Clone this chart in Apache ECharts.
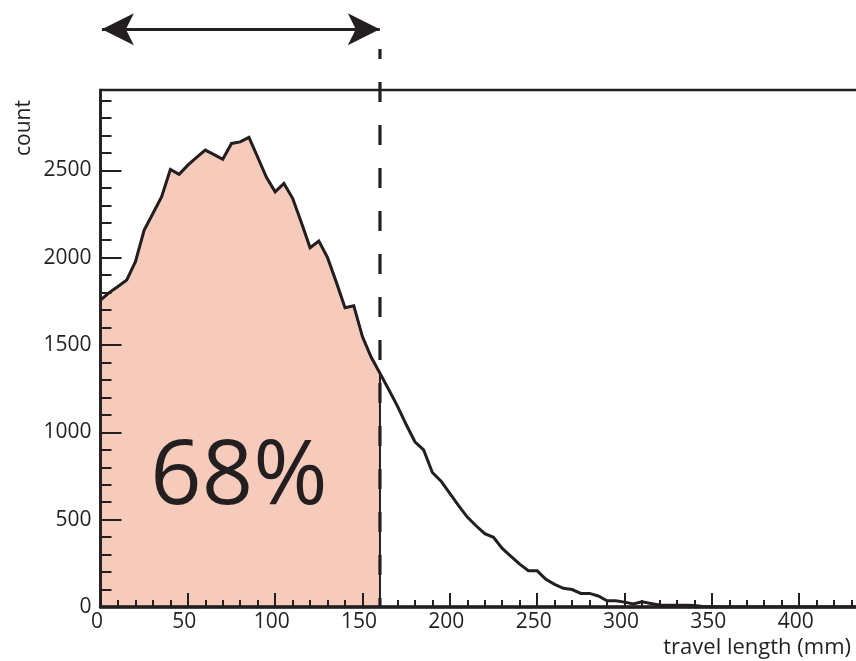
<!DOCTYPE html>
<html>
<head>
<meta charset="utf-8">
<script src="https://cdn.jsdelivr.net/npm/echarts@6/dist/echarts.min.js"></script>
<style>
html, body { margin: 0; padding: 0; background: #fff; }
#chart { width: 856px; height: 661px; }
</style>
</head>
<body>
<div id="chart"></div>
<script>
// travel length (mm) at each histogram point
const travelLength = [
    0, 5, 10, 15, 20, 25, 30, 35, 40, 45, 50, 55, 60, 65, 70, 75, 80, 85, 90, 95,
    100, 105, 110, 115, 120, 125, 130, 135, 140, 145, 150, 155, 160, 165, 170, 175,
    180, 185, 190, 195, 200, 205, 210, 215, 220, 225, 230, 235, 240, 245, 250, 255,
    260, 265, 270, 275, 280, 285, 290, 295, 300, 305, 310, 315, 320, 325, 330, 335,
    340, 345, 350, 355, 450
];
const counts = [
    1757, 1800, 1835, 1872, 1977, 2158, 2253, 2349, 2505, 2477, 2530, 2574, 2616, 2590, 2563, 2654, 2663, 2689, 2575, 2460,
    2377, 2425, 2340, 2202, 2057, 2095, 2000, 1860, 1713, 1725, 1547, 1430, 1338, 1245, 1150, 1045,
    946, 899, 770, 720, 650, 580, 515, 465, 420, 399, 335, 290, 245, 208, 207, 158,
    130, 107, 100, 78, 78, 63, 36, 36, 28, 17, 30, 20, 11, 10, 10, 10,
    8, 3, 2, 0, 0
];
const cutLength = 160;        // 68% of tracks are shorter
const cutLabel = '68%';
const yMax = 2960;            // top of the frame
const annotMax = 3400;        // y range of the annotation layer
const dashTop = 3195;
const arrowLevel = 3307;
const arrowFrom = 0.8;
const arrowTo = 159.9;

const ink = '#231f20';
const fill = '#f7cbbb';
const font = '"Open Sans", sans-serif';

const line = travelLength.map((x, i) => [x, counts[i]]);
const shaded = line.filter(p => p[0] <= cutLength).concat([[cutLength, 0]]);
const plain = v => String(v);

const chart = echarts.init(document.getElementById('chart'), null, { renderer: 'canvas' });

chart.setOption({
    animation: false,
    backgroundColor: '#fff',
    textStyle: { fontFamily: font, color: ink },
    grid: [
        { left: 100.5, right: -30.5, top: 90, bottom: 54, outerBoundsMode: 'none', containLabel: false,
          show: true, borderColor: ink, borderWidth: 2.5, z: 10 },
        { left: 100.5, right: -30.5, top: 13.1, bottom: 54, outerBoundsMode: 'none', containLabel: false }
    ],
    xAxis: [
        {
            type: 'value', gridIndex: 0, min: 0, max: 450, interval: 50, z: 10,
            axisLine: { lineStyle: { color: ink, width: 3.5 } },
            axisTick: { inside: true, length: 14, lineStyle: { color: ink, width: 2 } },
            minorTick: { show: true, splitNumber: 5, length: 7, lineStyle: { color: ink, width: 2 } },
            splitLine: { show: false },
            axisLabel: { fontFamily: font, fontSize: 21, color: ink, margin: 5, padding: [0, 7, 0, 0], formatter: plain }
        },
        { type: 'value', gridIndex: 1, min: 0, max: 450, show: false }
    ],
    yAxis: [
        {
            type: 'value', gridIndex: 0, min: 0, max: yMax, interval: 500, z: 10,
            axisLine: { lineStyle: { color: ink, width: 2.7 } },
            axisTick: { inside: true, length: 21, lineStyle: { color: ink, width: 2 } },
            splitLine: { show: false },
            axisLabel: { fontFamily: font, fontSize: 21, color: ink, margin: 9, showMaxLabel: false, formatter: plain }
        },
        {
            type: 'value', gridIndex: 0, min: 0, max: yMax, interval: 100, z: 10, position: 'left',
            axisLine: { show: false },
            axisTick: { inside: true, length: 11, lineStyle: { color: ink, width: 2 } },
            splitLine: { show: false },
            axisLabel: { show: false }
        },
        { type: 'value', gridIndex: 1, min: 0, max: annotMax, show: false }
    ],
    series: [
        {
            type: 'line', xAxisIndex: 0, yAxisIndex: 0, data: shaded, symbol: 'none', z: 1,
            lineStyle: { color: ink, width: 2 },
            areaStyle: { color: fill, opacity: 1 }
        },
        {
            type: 'line', xAxisIndex: 0, yAxisIndex: 0, data: line, symbol: 'none', z: 3,
            lineStyle: { color: ink, width: 3, join: 'miter' }
        },
        {
            type: 'line', xAxisIndex: 1, yAxisIndex: 2, z: 5, symbol: 'none',
            data: [[cutLength, dashTop], [cutLength, 0]],
            lineStyle: { color: ink, width: 3.2, type: [20, 23], dashOffset: 10 },
            markLine: {
                silent: true,
                symbol: ['arrow', 'arrow'],
                symbolSize: [24, 32],
                label: { show: false },
                lineStyle: { color: ink, width: 3, type: 'solid' },
                data: [[{ coord: [arrowFrom, arrowLevel] }, { coord: [arrowTo, arrowLevel] }]]
            }
        }
    ],
    graphic: [
        {
            type: 'text', x: 239, y: 478, z: 20,
            style: { text: cutLabel, font: '90px ' + font, fill: ink, align: 'center', verticalAlign: 'middle' }
        },
        {
            type: 'text', x: 24.5, y: 128, rotation: Math.PI / 2, z: 20,
            style: { text: 'count', font: '21px ' + font, fill: ink, align: 'center', verticalAlign: 'middle' }
        },
        {
            type: 'text', x: 851, y: 648, z: 20,
            style: { text: 'travel length (mm)', font: '22px ' + font, fill: ink, align: 'right', verticalAlign: 'middle' }
        }
    ]
});
</script>
</body>
</html>
